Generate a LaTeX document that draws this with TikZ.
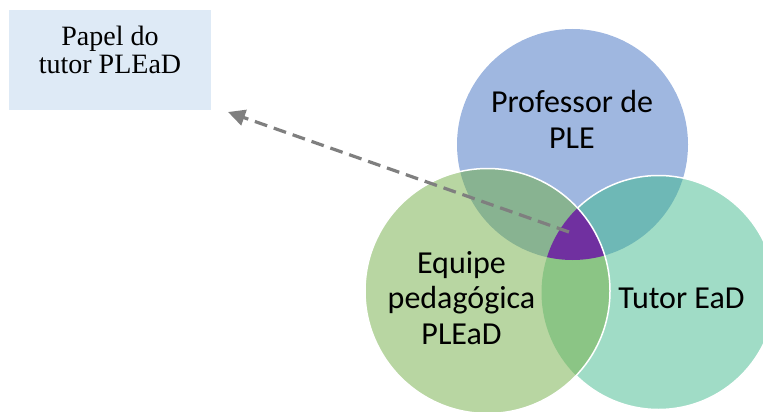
\documentclass[tikz,border=0pt]{standalone}
\usepackage{fontspec}
\setmainfont{Liberation Serif}
\newfontfamily\carlitofont{Carlito}
\usetikzlibrary{arrows.meta}
\definecolor{cblue}{HTML}{9FB7E0}
\definecolor{cgreen}{HTML}{B8D6A2}
\definecolor{cteal}{HTML}{A0DCC6}
\definecolor{cbg}{HTML}{88B391}
\definecolor{cbt}{HTML}{6EB8B6}
\definecolor{cgt}{HTML}{8BC585}
\definecolor{cpurple}{HTML}{7030A0}
\definecolor{boxblue}{HTML}{DEEAF6}
\definecolor{arrowgray}{HTML}{7F7F7F}
\tikzset{
  venntext/.style={font=\carlitofont\fontsize{32}{35.5}\selectfont, align=center, anchor=base, inner sep=0pt},
  boxtext/.style={font=\fontsize{28}{28}\selectfont, align=center, anchor=base, inner sep=0pt},
  whiteline/.style={draw=white, line width=1.5pt},
  dasharrow/.style={draw=arrowgray, line width=3.2pt, dash pattern=on 13pt off 7pt, -{Triangle[length=17pt,width=16pt]}}
}
\begin{document}
\begin{tikzpicture}[x=1pt,y=-1pt]
\useasboundingbox (0,0) rectangle (763,412);
\clip (0,0) rectangle (763,412);
\coordinate (B) at (572.5,144.5);
\coordinate (T) at (658.5,292.5);
\coordinate (G) at (487.5,291);
\def\rB{115.5pt}
\def\rT{117pt}
\def\rG{122.5pt}
% blue
\fill[cblue] (B) circle[radius=\rB];
% teal
\fill[cteal] (T) circle[radius=\rT];
\begin{scope}
  \clip (B) circle[radius=\rB];
  \fill[cbt] (T) circle[radius=\rT];
\end{scope}
\draw[whiteline] (T) circle[radius=\rT];
% green
\fill[cgreen] (G) circle[radius=\rG];
\begin{scope}
  \clip (G) circle[radius=\rG];
  \fill[cbg] (B) circle[radius=\rB];
  \fill[cgt] (T) circle[radius=\rT];
  \clip (B) circle[radius=\rB];
  \fill[cpurple] (T) circle[radius=\rT];
\end{scope}
\draw[whiteline] (G) circle[radius=\rG];
% labels (anchor=base is the baseline of the last line)
\node[venntext] (prof) at (572,148) {Professor de\\PLE};
\node[venntext] (equipe) at (461.5,344) {Equipe\\pedag\'ogica\\PLEaD};
\node[venntext] (tutor) at (681.5,308) {Tutor EaD};
% box
\node[fill=boxblue, minimum width=202pt, minimum height=100pt, inner sep=0pt] (box) at (110,60) {};
\node[boxtext] (papel) at (110,74) {Papel do\\tutor PLEaD};
% arrow
\coordinate (start) at (569,232);
\coordinate (tip) at (228,112);
\draw[dasharrow] (start) -- (tip);
\end{tikzpicture}
\end{document}
